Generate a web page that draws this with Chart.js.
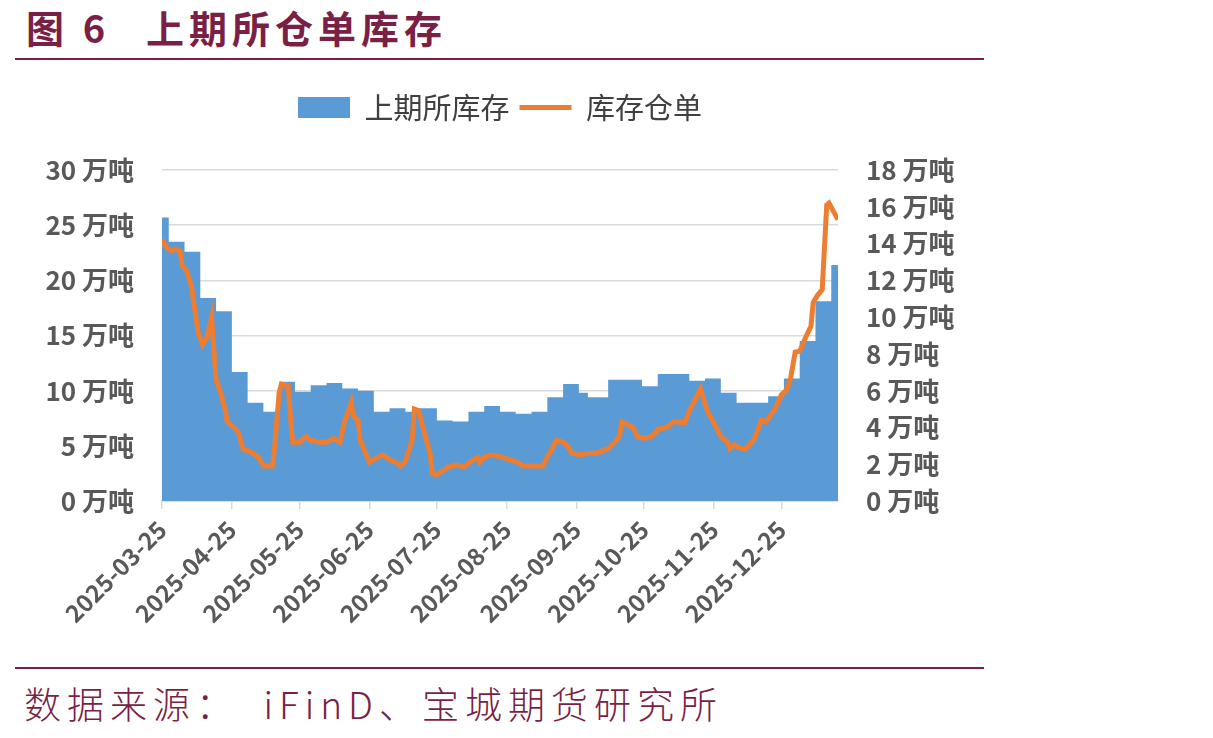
<!DOCTYPE html>
<html>
<head>
<meta charset="utf-8">
<script src="https://cdn.jsdelivr.net/npm/chart.js@4.4.1/dist/chart.umd.min.js"></script>
<style>
  body { margin: 0; background: #fff; width: 1213px; height: 738px; position: relative; overflow: hidden; font-family: "Noto Sans CJK SC", sans-serif; }
  #title { position: absolute; left: 26px; top: -1px; font-size: 38px; font-weight: bold; color: #7A1F45; letter-spacing: 5px; white-space: nowrap; }
  #title .gap { margin-left: 36px; }
  .rule { position: absolute; left: 15px; width: 969px; height: 2px; background: #7A1F45; }
  #source { position: absolute; left: 24px; top: 676px; font-size: 37px; font-weight: 300; color: #7A1F45; letter-spacing: 6px; white-space: nowrap; }
  #wrap { position: absolute; left: 0; top: 62px; width: 1000px; height: 600px; }
</style>
</head>
<body>
<div id="title">图 6<span class="gap">上期所仓单库存</span></div>
<div class="rule" style="top:58px"></div>
<div id="wrap"><canvas id="chart"></canvas></div>
<div class="rule" style="top:667px"></div>
<div id="source">数据来源：　iFinD、宝城期货研究所</div>

<script>
// x轴刻度（每月25日）
const tickLabels = ["2025-03-25", "2025-04-25", "2025-05-25", "2025-06-25", "2025-07-25",
  "2025-08-25", "2025-09-25", "2025-10-25", "2025-11-25", "2025-12-25"];
const firstDate = "2025-03-25";
const lastDate = "2026-01-19";

// 上期所库存（万吨，周度）
const stockDates = ["2025-03-25", "2025-03-28", "2025-04-04", "2025-04-11", "2025-04-18", "2025-04-25",
  "2025-05-02", "2025-05-09", "2025-05-16", "2025-05-23", "2025-05-30", "2025-06-06", "2025-06-13",
  "2025-06-20", "2025-06-27", "2025-07-04", "2025-07-11", "2025-07-15", "2025-07-25", "2025-08-01",
  "2025-08-08", "2025-08-15", "2025-08-22", "2025-08-29", "2025-09-05", "2025-09-12", "2025-09-19",
  "2025-09-26", "2025-09-30", "2025-10-09", "2025-10-24", "2025-10-31", "2025-11-14", "2025-11-21",
  "2025-11-28", "2025-12-05", "2025-12-19", "2025-12-26", "2026-01-02", "2026-01-09", "2026-01-16",
  "2026-01-19"];
const stockValues = [25.7, 23.5, 22.6, 18.4, 17.2, 11.7,
  8.9, 8.1, 10.8, 9.9, 10.5, 10.7, 10.2,
  10.0, 8.1, 8.4, 8.1, 8.4, 7.3, 7.2,
  8.1, 8.6, 8.1, 7.9, 8.1, 9.4, 10.6,
  9.8, 9.4, 11.0, 10.4, 11.5, 10.9, 11.1,
  9.8, 8.9, 9.5, 11.1, 14.5, 18.1, 21.4,
  21.4];

// 库存仓单（万吨，日度）
const receiptDates = ["2025-03-25", "2025-03-27", "2025-03-29", "2025-03-31", "2025-04-02", "2025-04-03",
  "2025-04-05", "2025-04-07", "2025-04-10", "2025-04-12", "2025-04-14", "2025-04-16", "2025-04-18",
  "2025-04-20", "2025-04-22", "2025-04-23", "2025-04-26", "2025-04-28", "2025-04-30", "2025-05-03",
  "2025-05-07", "2025-05-09", "2025-05-13", "2025-05-14", "2025-05-16", "2025-05-17", "2025-05-20",
  "2025-05-21", "2025-05-22", "2025-05-25", "2025-05-28", "2025-05-30", "2025-06-03", "2025-06-06",
  "2025-06-09", "2025-06-12", "2025-06-14", "2025-06-17", "2025-06-18", "2025-06-20", "2025-06-21",
  "2025-06-25", "2025-06-29", "2025-07-01", "2025-07-04", "2025-07-07", "2025-07-09", "2025-07-11",
  "2025-07-14", "2025-07-15", "2025-07-17", "2025-07-19", "2025-07-22", "2025-07-23", "2025-07-25",
  "2025-07-30", "2025-08-03", "2025-08-06", "2025-08-09", "2025-08-12", "2025-08-13", "2025-08-15",
  "2025-08-19", "2025-08-24", "2025-08-26", "2025-08-30", "2025-09-01", "2025-09-06", "2025-09-10",
  "2025-09-12", "2025-09-14", "2025-09-16", "2025-09-19", "2025-09-21", "2025-09-23", "2025-09-27",
  "2025-09-30", "2025-10-04", "2025-10-09", "2025-10-12", "2025-10-14", "2025-10-15", "2025-10-20",
  "2025-10-22", "2025-10-25", "2025-10-28", "2025-10-30", "2025-10-31", "2025-11-04", "2025-11-07",
  "2025-11-09", "2025-11-12", "2025-11-14", "2025-11-19", "2025-11-22", "2025-11-26", "2025-11-28",
  "2025-12-01", "2025-12-02", "2025-12-04", "2025-12-06", "2025-12-09", "2025-12-13", "2025-12-16",
  "2025-12-18", "2025-12-22", "2025-12-25", "2025-12-27", "2025-12-29", "2025-12-31", "2026-01-02",
  "2026-01-05", "2026-01-07", "2026-01-08", "2026-01-10", "2026-01-12", "2026-01-14", "2026-01-15",
  "2026-01-19"];
const receiptValues = [14.2, 13.8, 13.6, 13.7, 13.6, 12.8,
  12.5, 11.7, 9.2, 8.5, 8.9, 10.0, 6.6,
  5.9, 5.0, 4.3, 4.0, 3.7, 2.8, 2.7,
  2.35, 1.9, 1.9, 2.95, 5.9, 6.35, 6.25,
  4.6, 3.2, 3.2, 3.5, 3.3, 3.2, 3.2,
  3.4, 3.2, 4.3, 5.35, 4.6, 4.4, 3.3,
  2.1, 2.4, 2.5, 2.25, 2.1, 1.9, 2.15,
  3.3, 5.0, 4.9, 3.9, 2.6, 1.5, 1.4,
  1.85, 1.95, 1.85, 2.15, 2.35, 2.1, 2.4,
  2.5, 2.35, 2.25, 2.1, 1.9, 1.9, 1.9,
  2.4, 2.8, 3.3, 3.2, 3.0, 2.6, 2.5,
  2.6, 2.6, 2.85, 3.2, 3.5, 4.3, 4.0,
  3.5, 3.4, 3.5, 3.7, 3.9, 4.0, 4.3,
  4.3, 4.25, 4.9, 6.1, 4.9, 4.0, 3.5,
  3.2, 2.85, 3.05, 2.9, 2.8, 3.4, 4.4,
  4.3, 5.0, 5.8, 6.0, 6.7, 8.1, 8.15,
  9.0, 9.5, 10.8, 11.2, 11.5, 16.1, 16.2,
  15.3];

// 日期 -> 距起始日天数
function dayOf(s) {
  const [y, m, d] = s.split("-").map(Number);
  const [y0, m0, d0] = firstDate.split("-").map(Number);
  return (Date.UTC(y, m - 1, d) - Date.UTC(y0, m0 - 1, d0)) / 86400000;
}
const toPoints = (dates, values) => dates.map((d, i) => ({ x: dayOf(d), y: values[i] }));

const tickFont = { family: "'Noto Sans CJK SC'", size: 26, weight: "bold" };
const tickColor = "#595959";

// 图例和绘图区之间留空
const legendGap = {
  id: "legendGap",
  beforeInit(chart) {
    const fit = chart.legend.fit;
    chart.legend.fit = function () {
      fit.call(this);
      this.height += 38;
    };
  }
};

new Chart(document.getElementById("chart"), {
  type: "line",
  data: {
    datasets: [
      {
        label: "上期所库存",
        data: toPoints(stockDates, stockValues),
        yAxisID: "y",
        stepped: true,
        fill: "origin",
        backgroundColor: "#5B9BD5",
        borderColor: "#5B9BD5",
        borderWidth: 0,
        pointRadius: 0,
        pointStyle: "rect",
        order: 2
      },
      {
        label: "库存仓单",
        data: toPoints(receiptDates, receiptValues),
        yAxisID: "y1",
        borderColor: "#ED7D31",
        backgroundColor: "#ED7D31",
        borderWidth: 5,
        pointRadius: 0,
        pointStyle: "line",
        tension: 0,
        fill: false,
        order: 1
      }
    ]
  },
  options: {
    responsive: true,
    maintainAspectRatio: false,
    animation: false,
    layout: { padding: { top: 21, left: 0, right: 0, bottom: 0 } },
    plugins: {
      legend: {
        position: "top",
        labels: {
          usePointStyle: true,
          pointStyleWidth: 52,
          boxHeight: 21,
          padding: 10,
          color: "#404040",
          font: { family: "'Noto Sans CJK SC'", size: 29 },
          sort: (a, b) => a.datasetIndex - b.datasetIndex
        }
      },
      tooltip: { enabled: false }
    },
    scales: {
      x: {
        type: "linear",
        min: 0,
        max: dayOf(lastDate),
        afterBuildTicks: s => { s.ticks = tickLabels.map(t => ({ value: dayOf(t) })); },
        afterFit: s => { s.height = 161; },
        ticks: {
          autoSkip: false,
          minRotation: 45,
          maxRotation: 45,
          padding: 6,
          color: tickColor,
          font: { family: "'Noto Sans CJK SC'", size: 24, weight: "bold" },
          callback: (v, i) => tickLabels[i]
        },
        grid: { drawOnChartArea: false, drawTicks: true, tickLength: 8, color: "#D9D9D9", lineWidth: 1.5 },
        border: { display: true, color: "#D9D9D9", width: 1.5 }
      },
      y: {
        position: "left",
        min: 0,
        max: 30,
        afterFit: s => { s.width = 162; },
        ticks: { stepSize: 5, padding: 28, color: tickColor, font: tickFont, callback: v => v + " 万吨" },
        grid: { color: "#D9D9D9", lineWidth: 1.5, drawTicks: false },
        border: { display: false }
      },
      y1: {
        position: "right",
        min: 0,
        max: 18,
        afterFit: s => { s.width = 162; },
        ticks: { stepSize: 2, padding: 28, color: tickColor, font: tickFont, callback: v => v + " 万吨" },
        grid: { display: false, drawTicks: false },
        border: { display: false }
      }
    }
  },
  plugins: [legendGap]
});
</script>
</body>
</html>
